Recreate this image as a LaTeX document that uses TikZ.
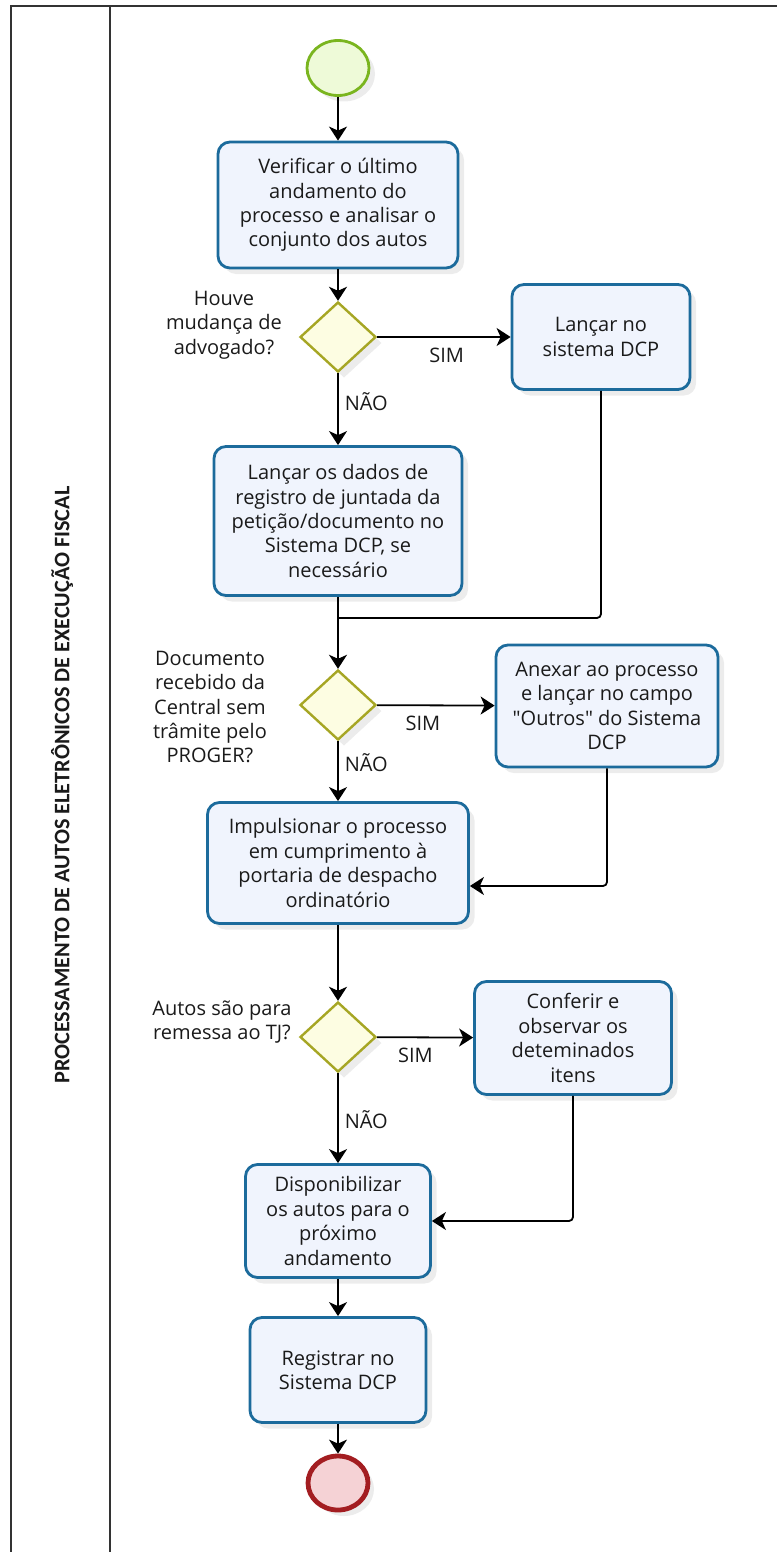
\documentclass[tikz,border=0pt]{standalone}
\usepackage{fontspec}
\setmainfont{Open Sans}[Ligatures=TeXOff]
\newfontfamily\lanefont{Carlito}
\usetikzlibrary{arrows.meta,positioning,calc,shapes.geometric,shadows}
\definecolor{taskline}{HTML}{1C6B9C}
\definecolor{taskfill}{HTML}{F0F4FD}
\definecolor{gateline}{HTML}{A6A624}
\definecolor{gatefill}{HTML}{FDFDE2}
\definecolor{startline}{HTML}{7AB51F}
\definecolor{startfill}{HTML}{EEFAD8}
\definecolor{endline}{HTML}{A31D21}
\definecolor{endfill}{HTML}{F5D2D5}
\definecolor{laneline}{HTML}{333333}
\definecolor{textcol}{HTML}{1A1A1A}

\begin{document}
\begin{tikzpicture}[
  x=0.5pt, y=-0.5pt,
  font=\fontsize{10}{12.2}\selectfont, text=textcol,
  softshadow/.style={drop shadow={shadow xshift=3pt, shadow yshift=-3pt, opacity=0.15}},
  task/.style={draw=taskline, line width=1.4pt, rounded corners=6pt, fill=taskfill, align=center, inner sep=2pt, softshadow},
  gateway/.style={diamond, draw=gateline, line width=1.2pt, fill=gatefill, minimum width=38pt, minimum height=35pt, inner sep=0pt, softshadow},
  startev/.style={ellipse, draw=startline, line width=1.4pt, fill=startfill, minimum width=31pt, minimum height=27.5pt, softshadow},
  endev/.style={ellipse, draw=endline, line width=2.4pt, fill=endfill, minimum width=30pt, minimum height=27pt, softshadow},
  flow/.style={-{Stealth[length=7pt, width=9pt, inset=2pt]}, line width=0.9pt},
  merge/.style={line width=0.9pt, rounded corners=2pt},
  question/.style={align=center},
  branch/.style={inner sep=3pt},
  lane/.style={draw=laneline, line width=1pt}
]
\useasboundingbox (0,0) rectangle (777,1552);

\draw[lane] (11,1552) |- (777,6);
\draw[lane] (110,6) -- (110,1552);
\node[rotate=90, font=\lanefont\bfseries\fontsize{11.1}{12}\selectfont] (lanetitle) at (62,785)
  {PROCESSAMENTO DE AUTOS ELETRÔNICOS DE EXECUÇÃO FISCAL};

\node[startev] (start) at (338,68) {};
\node[task, minimum width=120pt, minimum height=63pt] (verify) at (338,205)
  {Verificar o último\\andamento do\\processo e analisar o\\conjunto dos autos};
\node[gateway] (lawyer) at (338,337) {};
\node[question] (lawyerq) at (224,325) {Houve\\mudança de\\advogado?};
\node[task, minimum width=89pt, minimum height=52.5pt] (dcpone) at (601,337)
  {Lançar no\\sistema DCP};
\node[task, minimum width=124pt, minimum height=74.5pt] (filing) at (338,521)
  {Lançar os dados de\\registro de juntada da\\petição/documento no\\Sistema DCP, se\\necessário};
\coordinate (joinone) at (338,618);
\node[gateway] (central) at (338,705) {};
\node[question] (centralq) at (210,707) {Documento\\recebido da\\Central sem\\trâmite pelo\\PROGER?};
\node[task, minimum width=111pt, minimum height=61pt] (attach) at (607,706)
  {Anexar ao processo\\e lançar no campo\\"Outros" do Sistema\\DCP};
\node[task, minimum width=130.5pt, minimum height=60.5pt] (push) at (338,863)
  {Impulsionar o processo\\em cumprimento à\\portaria de despacho\\ordinatório};
\node[gateway] (court) at (338,1037) {};
\node[question] (courtq) at (222,1022) {Autos são para\\remessa ao TJ?};
\node[task, minimum width=98.5pt, minimum height=56.5pt] (check) at (573,1038)
  {Conferir e\\observar os\\deteminados\\itens};
\node[task, minimum width=92.5pt, minimum height=56.5pt] (release) at (338,1221)
  {Disponibilizar\\os autos para o\\próximo\\andamento};
\node[task, minimum width=88pt, minimum height=52.5pt] (register) at (338,1370)
  {Registrar no\\Sistema DCP};
\node[endev] (finish) at (338,1483) {};

\draw[flow] (start) -- (verify);
\draw[flow] (verify) -- (lawyer);
\draw[flow] (lawyer) -- node[branch, pos=0.52, below, yshift=-2pt] {SIM} (dcpone);
\draw[flow] (lawyer) -- node[branch, pos=0.4, right] {NÃO} (filing);
\draw[merge] (dcpone.south) |- (joinone);
\draw[flow] (filing) -- (central);
\draw[flow] (central) -- node[branch, pos=0.39, below, yshift=-2pt] {SIM} (attach);
\draw[flow] (central) -- node[branch, pos=0.35, right] {NÃO} (push);
\draw[flow, rounded corners=2pt] (attach.south) |- ($(push.east)+(0,23)$);
\draw[flow] (push) -- (court);
\draw[flow] (court) -- node[branch, pos=0.4, below, yshift=-2pt] {SIM} (check);
\draw[flow] (court) -- node[branch, pos=0.52, right] {NÃO} (release);
\draw[flow, rounded corners=2pt] (check.south) |- (release.east);
\draw[flow] (release) -- (register);
\draw[flow] (register) -- (finish);
\end{tikzpicture}
\end{document}
